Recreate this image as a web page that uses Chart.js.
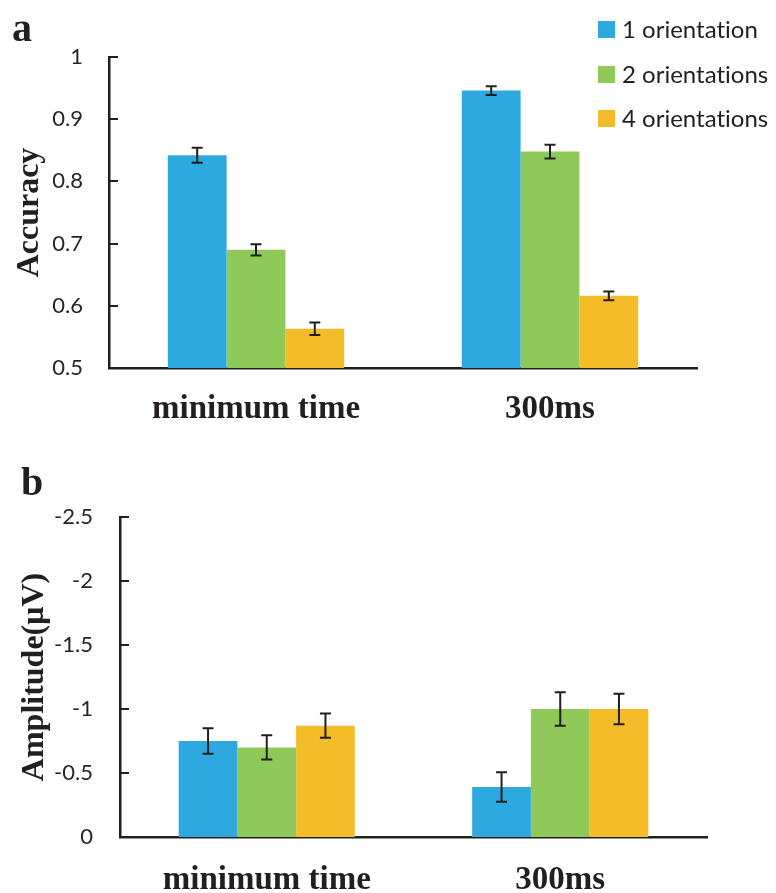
<!DOCTYPE html>
<html>
<head>
<meta charset="utf-8">
<script src="https://cdn.jsdelivr.net/npm/chart.js@4.4.1/dist/chart.umd.min.js"></script>
<style>
    html, body { margin: 0; padding: 0; background: #fff; }
    #wrap { position: relative; width: 776px; height: 893px; }
    .panel { position: absolute; left: 0; width: 776px; }
    .tag { position: absolute; font-family: "Liberation Serif", serif; font-weight: bold; font-size: 40px; color: #231f20; line-height: 1; }
    #legend { position: absolute; left: 598px; top: 14px; font-family: Lato, sans-serif; font-size: 24px; color: #231f20; font-variant-ligatures: none; }
    #legend div { height: 44.5px; display: flex; align-items: flex-start; }
    #legend span.box { display: inline-block; width: 17px; height: 17px; margin-right: 7px; margin-top: 7px; }
</style>
</head>
<body>
<div id="wrap">
    <div class="panel" style="top:0;height:440px"><canvas id="acc-chart" width="776" height="440"></canvas></div>
    <div class="panel" style="top:440px;height:453px"><canvas id="amp-chart" width="776" height="453"></canvas></div>
    <div class="tag" style="left:12px;top:8px">a</div>
    <div class="tag" style="left:21px;top:462px">b</div>
    <div id="legend"></div>
</div>
<script>
(function () {
    'use strict';

    var categories = ['minimum time', '300ms'];
    var seriesLabels = ['1 orientation', '2 orientations', '4 orientations'];
    var seriesColors = ['#2ea9df', '#8fc95a', '#f5bc2a'];

    // panel a - accuracy
    var accOne = [0.842, 0.946];
    var accTwo = [0.690, 0.848];
    var accFour = [0.563, 0.616];
    var accOneErr = [0.012, 0.007];
    var accTwoErr = [0.009, 0.011];
    var accFourErr = [0.010, 0.007];
    var accTicks = ['0.5', '0.6', '0.7', '0.8', '0.9', '1'];

    // panel b - amplitude (negative is drawn upward, axis reversed)
    var ampOne = [-0.75, -0.39];
    var ampTwo = [-0.70, -1.00];
    var ampFour = [-0.87, -1.00];
    var ampOneErr = [0.10, 0.115];
    var ampTwoErr = [0.095, 0.13];
    var ampFourErr = [0.095, 0.12];
    var ampTicks = ['0', '-0.5', '-1', '-1.5', '-2', '-2.5'];  // reversed scale lists ticks from 0

    var ink = '#231f20';
    var serif = '"Liberation Serif", serif';

    Chart.defaults.font.family = 'Lato, sans-serif';
    Chart.defaults.color = '#262626';

    // legend, built from the series
    var legend = document.getElementById('legend');
    seriesLabels.forEach(function (lab, i) {
        var row = document.createElement('div');
        row.innerHTML = '<span class="box" style="background:' + seriesColors[i] + '"></span><span>' + lab + '</span>';
        legend.appendChild(row);
    });

    //====[ PLUGINS ]=======================================

    var errorBars = {
        id: 'errorBars',
        afterDatasetsDraw: function (chart) {
            var ctx = chart.ctx;
            var y = chart.scales.y;
            ctx.save();
            ctx.strokeStyle = ink;
            ctx.lineWidth = 2;
            chart.data.datasets.forEach(function (ds, di) {
                var meta = chart.getDatasetMeta(di);
                meta.data.forEach(function (bar, i) {
                    var v = ds.data[i], e = ds.errors[i];
                    var y1 = y.getPixelForValue(v - e), y2 = y.getPixelForValue(v + e);
                    ctx.beginPath();
                    ctx.moveTo(bar.x, y1); ctx.lineTo(bar.x, y2);
                    ctx.moveTo(bar.x - 5.5, y1); ctx.lineTo(bar.x + 5.5, y1);
                    ctx.moveTo(bar.x - 5.5, y2); ctx.lineTo(bar.x + 5.5, y2);
                    ctx.stroke();
                });
            });
            ctx.restore();
        }
    };

    var innerTicks = {
        id: 'innerTicks',
        afterDraw: function (chart) {
            var ctx = chart.ctx;
            var y = chart.scales.y;
            var left = chart.chartArea.left;
            ctx.save();
            ctx.strokeStyle = ink;
            ctx.lineWidth = 2;
            y.ticks.forEach(function (t) {
                var py = Math.round(y.getPixelForValue(t.value));
                ctx.beginPath();
                ctx.moveTo(left, py); ctx.lineTo(left + 9, py);
                ctx.stroke();
            });
            ctx.restore();
        }
    };

    function makeDatasets(a, b, c, ea, eb, ec) {
        return [a, b, c].map(function (vals, i) {
            return {
                label: seriesLabels[i],
                data: vals,
                errors: [ea, eb, ec][i],
                backgroundColor: seriesColors[i],
                borderWidth: 0,
                categoryPercentage: 0.6,
                barPercentage: 1
            };
        });
    }

    function makeOptions(cfg) {
        return {
            responsive: false,
            animation: false,
            devicePixelRatio: 1,
            layout: { padding: { top: cfg.top, right: cfg.right, bottom: 0, left: 0 } },
            plugins: { legend: { display: false }, tooltip: { enabled: false } },
            scales: {
                x: {
                    grid: { display: false, drawTicks: false },
                    border: { display: true, color: ink, width: 2.5 },
                    ticks: {
                        padding: cfg.xPad,
                        color: ink,
                        font: { family: serif, weight: 'bold', size: 33 }
                    },
                    afterFit: function (s) { s.height = cfg.xHeight; }
                },
                y: {
                    min: cfg.min, max: cfg.max, reverse: cfg.reverse,
                    grid: { display: false, drawTicks: false },
                    border: { display: true, color: ink, width: 2.5 },
                    ticks: {
                        stepSize: cfg.step,
                        padding: cfg.yPad,
                        font: { size: 22 },
                        callback: function (v, i) { return cfg.labels[i]; }
                    },
                    title: {
                        display: true,
                        text: cfg.title,
                        color: ink,
                        padding: { top: cfg.titlePad, bottom: 0 },
                        font: { family: serif, weight: 'bold', size: 32 }
                    },
                    afterFit: function (s) { s.width = cfg.yWidth; }
                }
            }
        };
    }

    new Chart(document.getElementById('acc-chart'), {
        type: 'bar',
        data: {
            labels: categories,
            datasets: makeDatasets(accOne, accTwo, accFour, accOneErr, accTwoErr, accFourErr)
        },
        options: makeOptions({
            top: 57, right: 79, xHeight: 72, yWidth: 109, xPad: 22, yPad: 26,
            min: 0.5, max: 1, step: 0.1, reverse: false, labels: accTicks,
            title: 'Accuracy', titlePad: 11
        }),
        plugins: [errorBars, innerTicks]
    });

    new Chart(document.getElementById('amp-chart'), {
        type: 'bar',
        data: {
            labels: categories,
            datasets: makeDatasets(ampOne, ampTwo, ampFour, ampOneErr, ampTwoErr, ampFourErr)
        },
        options: makeOptions({
            top: 77, right: 69, xHeight: 56, yWidth: 120, xPad: 24, yPad: 27,
            min: -2.5, max: 0, step: 0.5, reverse: true, labels: ampTicks,
            title: 'Amplitude(μV)', titlePad: 16
        }),
        plugins: [errorBars, innerTicks]
    });
})();
</script>
</body>
</html>
